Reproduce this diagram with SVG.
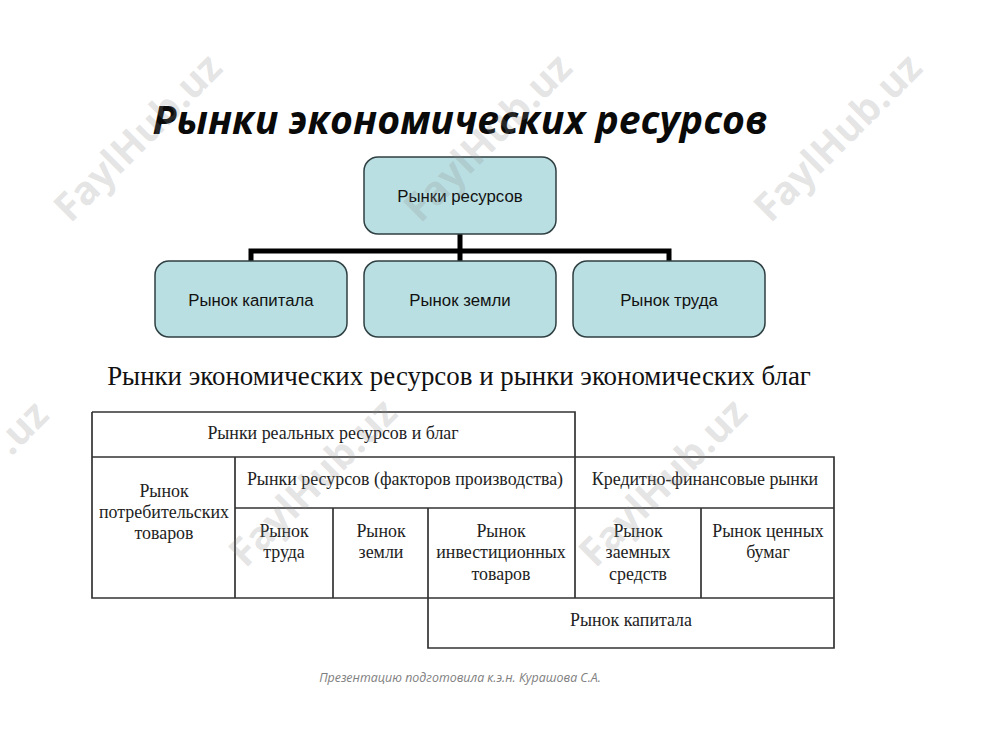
<svg xmlns="http://www.w3.org/2000/svg" width="1000" height="750" viewBox="0 0 1000 750">
<style>
.wm{font:bold 39.5px "Open Sans","Liberation Sans",sans-serif;fill:#8c8c8c;fill-opacity:.24;text-anchor:middle}
.box{fill:#b9dfe2;stroke:#2f3f42;stroke-width:1.5}
.bt{font:16.8px "Liberation Sans",sans-serif;fill:#111;text-anchor:middle}
.t{font:17.9px "Liberation Serif",serif;fill:#222;text-anchor:middle}
.cell{fill:none;stroke:#333;stroke-width:1.7}
.conn{fill:none;stroke:#000;stroke-width:5}
</style>
<rect width="1000" height="750" fill="#fff"/>
<text id="title" x="460" y="134" text-anchor="middle" style="font:italic bold 39.2px 'Open Sans','Liberation Sans',sans-serif;fill:#0a0a0a">Рынки экономических ресурсов</text>
<g id="connectors">
<path class="conn" d="M460 234V261M251 261V251H669V261"/>
</g>
<g id="n-resources"><rect class="box" x="364" y="157" width="192" height="77" rx="14"/><text class="bt" x="460" y="202">Рынки ресурсов</text></g>
<g id="n-capital"><rect class="box" x="155" y="261" width="192" height="76" rx="14"/><text class="bt" x="251" y="306">Рынок капитала</text></g>
<g id="n-land"><rect class="box" x="364" y="261" width="192" height="76" rx="14"/><text class="bt" x="460" y="306">Рынок земли</text></g>
<g id="n-labour"><rect class="box" x="573" y="261" width="192" height="76" rx="14"/><text class="bt" x="669" y="306">Рынок труда</text></g>
<text id="subtitle" x="459" y="385" text-anchor="middle" style="font:26.9px 'Liberation Serif',serif;fill:#111">Рынки экономических ресурсов и рынки экономических благ</text>
<g id="table">
<path class="cell" d="M92 412H575V508M92 412V598H834V457H92M235 457V598M235 508H834M333 508V598M428 508V648H834V598M575 508V598M701 508V598"/>
<text class="t" x="333" y="439">Рынки реальных ресурсов и благ</text>
<text class="t" x="405" y="485">Рынки ресурсов (факторов производства)</text>
<text class="t" x="705" y="485">Кредитно-финансовые рынки</text>
<text class="t" x="164" y="497">Рынок</text>
<text class="t" x="164" y="518">потребительских</text>
<text class="t" x="164" y="539">товаров</text>
<text class="t" x="284" y="537">Рынок</text>
<text class="t" x="284" y="558">труда</text>
<text class="t" x="381" y="537">Рынок</text>
<text class="t" x="381" y="558">земли</text>
<text class="t" x="501" y="537">Рынок</text>
<text class="t" x="501" y="558">инвестиционных</text>
<text class="t" x="501" y="580">товаров</text>
<text class="t" x="638" y="537">Рынок</text>
<text class="t" x="638" y="558">заемных</text>
<text class="t" x="638" y="580">средств</text>
<text class="t" x="768" y="537">Рынок ценных</text>
<text class="t" x="768" y="558">бумаг</text>
<text class="t" x="631" y="626">Рынок капитала</text>
</g>
<text id="footer" x="460" y="682" text-anchor="middle" style="font:italic 12.4px 'Open Sans','Liberation Sans',sans-serif;fill:#808080">Презентацию подготовила к.э.н. Курашова С.А.</text>
<g id="watermarks">
<text class="wm" transform="translate(147.5 147) rotate(-45)">FaylHub.uz</text>
<text class="wm" transform="translate(497.5 147) rotate(-45)">FaylHub.uz</text>
<text class="wm" transform="translate(847.5 147) rotate(-45)">FaylHub.uz</text>
<text class="wm" style="text-anchor:end" transform="translate(51 417) rotate(-45)">.uz</text>
<text class="wm" transform="translate(322.5 492) rotate(-45)">FaylHub.uz</text>
<text class="wm" transform="translate(672.5 492) rotate(-45)">FaylHub.uz</text>
</g>
</svg>
